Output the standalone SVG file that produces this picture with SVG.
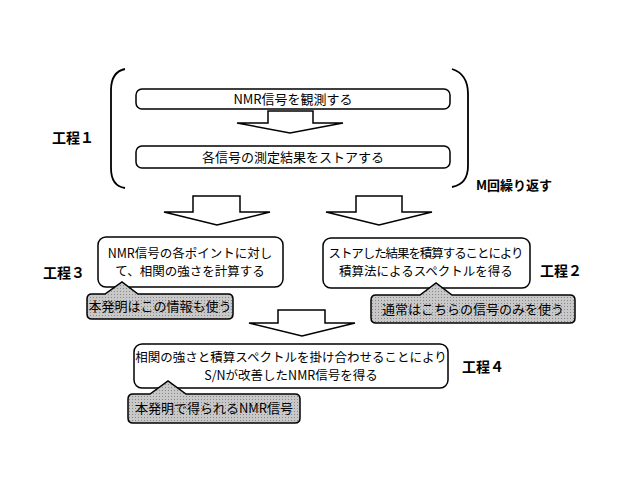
<svg xmlns="http://www.w3.org/2000/svg" width="640" height="487" viewBox="0 0 640 487">
<defs>
<pattern id="dots" width="3" height="3" patternUnits="userSpaceOnUse"><rect width="3" height="3" fill="#c8c8c8"/><rect width="1" height="1" fill="#888"/></pattern>
</defs>
<style>
text{font-family:"Noto Sans CJK JP","Liberation Sans",sans-serif;font-size:13px;fill:#000}
.s{font-size:12.5px}
.b{fill:#fff;stroke:#000;stroke-width:1.5}
.g{fill:url(#dots);stroke:#000;stroke-width:1.5}
.a{fill:#fff;stroke:#000;stroke-width:1.5;stroke-linejoin:miter}
.l{font-size:14px;font-weight:bold}
</style>
<rect width="640" height="487" fill="#fff"/>
<g id="bracket" fill="none" stroke="#000" stroke-width="1.8">
<path d="M125,69 Q111,72 111,90 L111,168 Q111,186 125,188"/>
<path d="M452,69 Q468,74 468,94 L468,166 Q468,184 452,187"/>
</g>
<g id="connectors">
<path class="a" d="M268,111 L313,111 L313,123 L343,123 L290,133 L237,123 L268,123 Z"/>
<path class="a" d="M193,196 L240,196 L240,212 L270,212 L217,225 L164,212 L193,212 Z"/>
<path class="a" d="M356,196 L402,196 L402,212 L432,212 L379,225 L326,212 L356,212 Z"/>
<path class="a" d="M278,310 L325,310 L325,323 L355,323 L302,336 L249,323 L278,323 Z"/>
</g>
<g id="n1"><rect class="b" x="136" y="89" width="314" height="20" rx="6"/><text x="293" y="104" text-anchor="middle">NMR信号を観測する</text></g>
<g id="n2"><rect class="b" x="136" y="146" width="314" height="22" rx="6"/><text x="293" y="162" text-anchor="middle">各信号の測定結果をストアする</text></g>
<g id="n3"><rect class="b" x="98" y="237" width="185" height="50" rx="8"/><text class="s" x="190" y="258" text-anchor="middle">NMR信号の各ポイントに対し</text><text class="s" x="190" y="276" text-anchor="middle">て、相関の強さを計算する</text></g>
<g id="n4"><rect class="b" x="323" y="238" width="207" height="50" rx="8"/><text class="s" x="426" y="258" text-anchor="middle" textLength="195">ストアした結果を積算することにより</text><text class="s" x="426" y="276" text-anchor="middle">積算法によるスペクトルを得る</text></g>
<g id="n5"><rect class="b" x="134" y="344" width="314" height="44" rx="8"/><text class="s" x="291" y="362" text-anchor="middle">相関の強さと積算スペクトルを掛け合わせることにより</text><text class="s" x="291" y="380" text-anchor="middle">S/Nが改善したNMR信号を得る</text></g>
<g id="c1"><path class="g" d="M92,294 L105,294 L122,282 L138,294 L228,294 Q233,294 233,299 L233,314 Q233,319 228,319 L92,319 Q87,319 87,314 L87,299 Q87,294 92,294 Z"/><text x="160" y="311" text-anchor="middle">本発明はこの情報も使う</text></g>
<g id="c2"><path class="g" d="M376,295 L420,295 L436,283 L452,295 L570,295 Q575,295 575,300 L575,318 Q575,323 570,323 L376,323 Q371,323 371,318 L371,300 Q371,295 376,295 Z"/><text x="473" y="314" text-anchor="middle">通常はこちらの信号のみを使う</text></g>
<g id="c3"><path class="g" d="M133,394 L150,394 L168,381 L186,394 L295,394 Q300,394 300,399 L300,418 Q300,423 295,423 L133,423 Q128,423 128,418 L128,399 Q128,394 133,394 Z"/><text x="214" y="413" text-anchor="middle">本発明で得られるNMR信号</text></g>
<g id="labels">
<text class="l" x="52" y="143">工程１</text>
<text class="l" x="476" y="190" style="font-size:13px">M回繰り返す</text>
<text class="l" x="43" y="278">工程３</text>
<text class="l" x="540" y="276">工程２</text>
<text class="l" x="462" y="372">工程４</text>
</g>
</svg>
